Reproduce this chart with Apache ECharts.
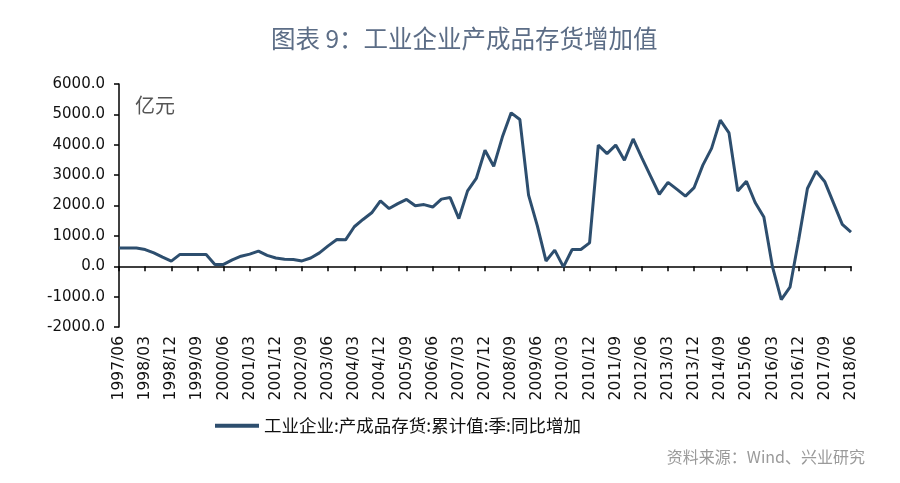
<!DOCTYPE html>
<html>
<head>
<meta charset="utf-8">
<script src="https://cdn.jsdelivr.net/npm/echarts@6/dist/echarts.min.js"></script>
<style>html,body{margin:0;padding:0;background:#fff;}#c{width:900px;height:483px;}</style>
</head>
<body>
<div id="c"></div>
<script>
// Categories: quarterly, 1997/06 .. 2018/06
const categories = [];
for (let y = 1997; y <= 2018; y++) {
  for (const m of ['03', '06', '09', '12']) {
    const key = y * 100 + parseInt(m, 10);
    if (key >= 199706 && key <= 201806) categories.push(y + '/' + m);
  }
}
const seriesName = '工业企业:产成品存货:累计值:季:同比增加';
const values = [
  600, 600, 600, 550, 440, 300, 170, 390, 390, 390,
  390, 60, 60, 210, 330, 400, 500, 360, 270, 230,
  220, 175, 270, 440, 670, 880, 870, 1300, 1540, 1760,
  2150, 1900, 2060, 2200, 1990, 2030, 1950, 2210, 2260, 1570,
  2480, 2890, 3820, 3290, 4260, 5050, 4830, 2340, 1340, 175,
  530, -20, 550, 550, 770, 3990, 3710, 3990, 3490, 4190,
  3570, 2970, 2370, 2760, 2540, 2310, 2590, 3330, 3880, 4810,
  4390, 2480, 2800, 2100, 1620, -30, -1100, -690, 880, 2560,
  3130, 2780, 2080, 1380, 1120
];
const yTicks = [-2000, -1000, 0, 1000, 2000, 3000, 4000, 5000, 6000];
const titleText = '图表 9：工业企业产成品存货增加值';
const unitText = '亿元';
const sourceText = '资料来源：Wind、兴业研究';

const chart = echarts.init(document.getElementById('c'), null, {renderer: 'canvas'});
const lineColor = '#2d4e6e';
chart.setOption({
  animation: false,
  backgroundColor: '#ffffff',
  title: [
    {text: titleText, left: 266, top: 21,
     textStyle: {fontFamily: 'Noto Sans CJK SC', fontSize: 24.5, fontWeight: 'normal', color: '#5c6d86'}},
    {text: unitText, left: 130, top: 90,
     textStyle: {fontFamily: 'Noto Sans CJK SC', fontSize: 20, fontWeight: 'normal', color: '#555'}},
    {text: sourceText, right: 30, top: 444,
     textStyle: {fontFamily: 'Noto Sans CJK SC', fontSize: 16, fontWeight: 'normal', color: '#9a9a9a'}}
  ],
  legend: {
    data: [seriesName], left: 210, top: 412,
    itemWidth: 44, itemHeight: 4, itemGap: 6,
    icon: 'rect',
    textStyle: {fontFamily: 'Noto Sans CJK SC', fontSize: 17.5, color: '#111'}
  },
  grid: {left: 119, right: 49, top: 84, bottom: 156, containLabel: false},
  xAxis: [
    {
      type: 'category', data: categories, boundaryGap: false,
      axisLine: {show: true, onZero: true, lineStyle: {color: '#000', width: 1.5}},
      axisTick: {show: true, interval: 2, length: 5, lineStyle: {color: '#000', width: 1.5}},
      axisLabel: {show: false},
      splitLine: {show: false}
    },
    {
      type: 'category', data: categories, boundaryGap: false, position: 'bottom',
      axisLine: {show: false, onZero: false},
      axisTick: {show: false},
      axisLabel: {show: true, interval: 2, rotate: 90, margin: 9,
                  fontFamily: 'DejaVu Sans', fontSize: 15.5, color: '#111'},
      splitLine: {show: false}
    }
  ],
  yAxis: {
    type: 'value', min: yTicks[0], max: yTicks[yTicks.length - 1], interval: 1000,
    axisLine: {show: true, lineStyle: {color: '#000', width: 1.5}},
    axisTick: {show: true, inside: false, length: 5, lineStyle: {color: '#000', width: 1.5}},
    axisLabel: {formatter: v => v.toFixed(1), margin: 14,
                fontFamily: 'DejaVu Sans', fontSize: 15, color: '#111'},
    splitLine: {show: false}
  },
  series: [{
    name: seriesName, type: 'line', data: values, xAxisIndex: 0,
    symbol: 'none', smooth: false,
    lineStyle: {color: lineColor, width: 3},
    itemStyle: {color: lineColor}
  }]
});
</script>
</body>
</html>
